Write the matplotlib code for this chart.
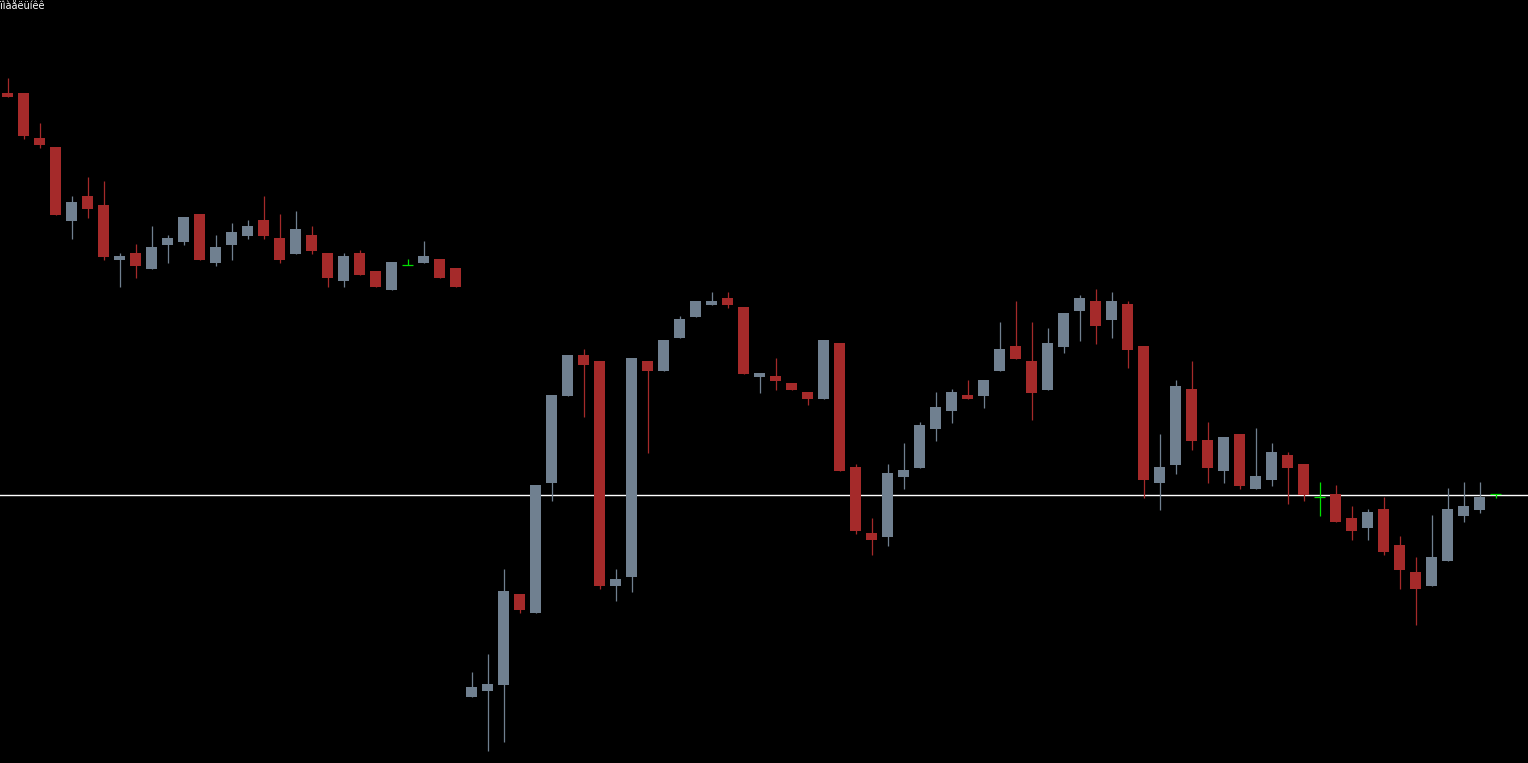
import matplotlib
matplotlib.use("Agg")
import matplotlib.pyplot as plt

# OHLC, arbitrary price units
opens = [670, 670, 625, 616, 542, 567, 558, 503, 510, 494,
         518, 521, 549, 500, 518, 527, 543, 525, 509, 528,
         510, 482, 510, 492, 473, 498, 500, 504, 495, 66,
         72, 78, 169, 150, 280, 367, 408, 402, 177, 186,
         402, 392, 425, 446, 458, 465, 456, 386, 387, 380,
         371, 364, 420, 296, 230, 226, 286, 295, 334, 352,
         368, 367, 392, 417, 402, 373, 416, 452, 462, 443,
         459, 417, 280, 298, 374, 323, 292, 329, 274, 283,
         308, 299, 266, 269, 245, 235, 254, 218, 191, 177,
         202, 247, 253, 269]
highs = [685, 670, 640, 616, 567, 586, 582, 510, 519, 537,
         528, 546, 549, 528, 540, 543, 567, 549, 552, 537,
         510, 510, 513, 492, 501, 504, 522, 504, 495, 91,
         109, 194, 169, 278, 368, 408, 414, 402, 194, 405,
         402, 423, 447, 462, 471, 471, 456, 390, 405, 380,
         371, 423, 420, 299, 245, 299, 320, 341, 371, 374,
         383, 383, 441, 462, 441, 435, 450, 468, 474, 471,
         462, 417, 329, 383, 402, 341, 326, 329, 335, 320,
         311, 299, 281, 278, 257, 254, 266, 227, 206, 248,
         275, 281, 281, 269]
lows = [666, 624, 615, 548, 524, 545, 503, 476, 485, 494,
        500, 518, 503, 497, 503, 524, 524, 500, 509, 509,
        476, 476, 488, 476, 473, 498, 500, 485, 476, 66,
        12, 21, 150, 150, 262, 367, 346, 174, 162, 171,
        310, 392, 425, 446, 458, 455, 389, 370, 373, 373,
        358, 364, 292, 229, 208, 217, 274, 295, 322, 340,
        364, 355, 392, 404, 343, 373, 410, 422, 419, 425,
        395, 265, 253, 289, 313, 280, 280, 274, 274, 277,
        259, 262, 247, 241, 223, 223, 208, 174, 138, 177,
        202, 241, 250, 265]
closes = [666, 627, 618, 548, 561, 554, 506, 507, 497, 516,
          525, 546, 503, 516, 531, 537, 527, 503, 534, 512,
          485, 507, 488, 476, 501, 498, 507, 485, 476, 76,
          79, 172, 153, 278, 368, 408, 398, 177, 184, 405,
          392, 423, 444, 462, 462, 458, 389, 390, 382, 373,
          364, 423, 292, 232, 223, 290, 293, 338, 356, 371,
          364, 383, 414, 404, 370, 420, 450, 465, 437, 462,
          413, 283, 296, 377, 322, 295, 326, 277, 287, 311,
          295, 268, 266, 241, 232, 251, 211, 193, 174, 206,
          254, 257, 266, 269]
level = 268.5

BG = "#000000"
UP = "#708090"
DOWN = "#A52A2A"
DOJI = "#00E000"

fig = plt.figure(figsize=(15.28, 7.63), dpi=100, facecolor=BG)
ax = fig.add_axes([0, 0, 1, 1], facecolor=BG)

body_w = 0.69
for i, (o, h, l, c) in enumerate(zip(opens, highs, lows, closes)):
    if c > o:
        col = UP
    elif c < o:
        col = DOWN
    else:
        col = DOJI
    ax.vlines(i, l, h, color=col, linewidth=0.9, zorder=2)
    if c == o:
        ax.hlines(o, i - body_w / 2, i + body_w / 2, color=col, linewidth=0.9, zorder=3)
    else:
        ax.bar(i, abs(c - o), bottom=min(o, c), width=body_w, color=col,
               linewidth=0, zorder=3)

ax.axhline(level, color="white", linewidth=1.0, zorder=1)

ax.set_xlim(-7.5 / 16, (1528 - 7.5) / 16)
ax.set_ylim(0, 763)
ax.axis("off")

# label in the corner (garbled cp1251 text, like in the original)
fig.text(0.0003, 0.999, "ïìàåëüíêê", color="white", fontsize=7,
         va="top", ha="left")

fig.savefig("out.png", dpi=100, facecolor=BG)
